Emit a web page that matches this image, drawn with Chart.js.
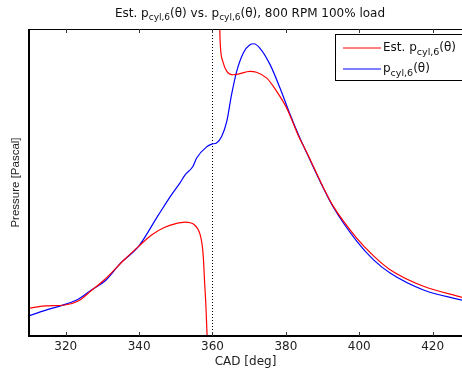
<!DOCTYPE html>
<html>
<head>
<meta charset="utf-8">
<script src="https://cdn.jsdelivr.net/npm/chart.js@4.4.1/dist/chart.umd.min.js"></script>
<style>
  html, body { margin: 0; padding: 0; background: #fff; }
  canvas { display: block; }
</style>
</head>
<body>
<canvas id="c" width="462" height="377"></canvas>
<script>
// Crank angle (deg) and cylinder pressure (arbitrary units) for the measured trace
const cadMeasured = [310, 314, 319.8, 323.4, 327, 330.7, 335, 339.8, 345.2, 349, 351.1, 352.5, 354.7, 355.7,
  358.4, 359.8, 361.1, 362.5, 363.9, 365.2, 366.6, 368.4, 370.2, 371.3, 372.9, 375.7, 378.4, 381.1,
  383.7, 385.7, 390.2, 392.9, 399.3, 403.9, 408.4, 417.5, 428];
const pMeasured = [6.6, 8.2, 10.3, 12.0, 15.0, 17.9, 23.8, 29.1, 39.3, 46.3, 49.8, 52.4, 55.3, 58.0,
  61.6, 62.5, 62.9, 65.0, 69.9, 78.6, 86.2, 92.2, 94.9, 95.2, 93.8, 88.4, 80.8, 72.3,
  64.8, 59.6, 48.2, 42.0, 30.9, 24.8, 20.5, 15.0, 11.7];

// Estimated trace: it diverges just before TDC and returns from above just after it
const cadEstimated = [310, 314.3, 319.8, 323.4, 327, 330.7, 336.1, 339.8, 343.4, 347, 350, 352.5, 355,
  356.6, 357.2, 357.5, 357.9, 358.2, 358.5, 358.8, 360,
  361.9, 362.0, 362.2, 362.8, 363.9, 365.7, 367.0, 370.2, 372.0, 374.8, 377.5, 380.2, 383.7,
  385.7, 390.2, 392.9, 399.3, 403.9, 408.4, 417.5, 428];
const pEstimated = [9.0, 9.8, 10.1, 11.4, 14.8, 18.5, 25.0, 29.1, 32.9, 35.4, 36.6, 37.1, 36.3,
  33.2, 29.6, 25.7, 16.6, 10.1, 1.0, -8, null,
  112, 100, 93.8, 89.5, 86.2, 85.1, 85.3, 86.2, 85.9, 84.0, 79.7, 74.3, 64.5,
  59.8, 48.4, 42.3, 31.9, 26.1, 21.6, 16.2, 12.6];

const xTickValues = [320, 340, 360, 380, 400, 420];
const tdcAngle = 360;

// Rich text pieces: [text, isSubscript]
const titleParts = [["Est. p", false], ["cyl,6", true], ["(\u03b8) vs. p", false], ["cyl,6", true], ["(\u03b8), 800 RPM 100% load", false]];
const legendEntries = [
  { color: "#ff0000", parts: [["Est. p", false], ["cyl,6", true], ["(\u03b8)", false]] },
  { color: "#0000ff", parts: [["p", false], ["cyl,6", true], ["(\u03b8)", false]] }
];

const WIDE = "'DejaVu Sans', Verdana, sans-serif";
const NARROW = "'Liberation Sans', Arial, Helvetica, sans-serif";

function toPoints(xs, ys) { return xs.map((x, i) => ({ x: x, y: ys[i] })); }

function richWidth(ctx, parts, main, sub) {
  let w = 0;
  for (const [t, s] of parts) {
    ctx.font = (s ? sub : main) + "px " + WIDE;
    w += ctx.measureText(t).width;
  }
  return w;
}
function drawRich(ctx, parts, x, y, main, sub, drop) {
  for (const [t, s] of parts) {
    ctx.font = (s ? sub : main) + "px " + WIDE;
    ctx.fillText(t, x, s ? y + drop : y);
    x += ctx.measureText(t).width;
  }
}

const decor = {
  id: "decor",
  beforeDatasetsDraw(chart) {
    const { ctx, chartArea: a, scales } = chart;
    const xp = Math.round(scales.x.getPixelForValue(tdcAngle)) + 0.5;
    ctx.save();
    ctx.strokeStyle = "#000";
    ctx.lineWidth = 1;
    ctx.setLineDash([1, 2]);
    ctx.beginPath();
    ctx.moveTo(xp, a.top);
    ctx.lineTo(xp, a.bottom);
    ctx.stroke();
    ctx.restore();
  },
  afterDraw(chart) {
    const { ctx, chartArea: a, scales } = chart;
    ctx.save();
    // axes box
    ctx.strokeStyle = "#000";
    ctx.lineWidth = 1;
    ctx.beginPath();
    ctx.moveTo(a.left, a.top + 0.5);
    ctx.lineTo(a.right, a.top + 0.5);
    ctx.stroke();
    ctx.lineWidth = 2;
    ctx.beginPath();
    ctx.moveTo(a.left, a.top);
    ctx.lineTo(a.left, a.bottom);
    ctx.lineTo(a.right, a.bottom);
    ctx.stroke();
    // inward tick marks on top and bottom
    ctx.strokeStyle = "#333";
    ctx.lineWidth = 1;
    for (const v of xTickValues) {
      const xp = Math.round(scales.x.getPixelForValue(v)) + 0.5;
      ctx.beginPath();
      ctx.moveTo(xp, a.bottom);
      ctx.lineTo(xp, a.bottom - 4);
      ctx.moveTo(xp, a.top);
      ctx.lineTo(xp, a.top + 4);
      ctx.stroke();
    }
    // title
    ctx.fillStyle = "#111";
    ctx.textBaseline = "alphabetic";
    ctx.textAlign = "left";
    const tw = richWidth(ctx, titleParts, 12, 9);
    drawRich(ctx, titleParts, 250 - tw / 2, 16.5, 12, 9, 3);
    // legend
    const lx = 335.5, ly = 34.5;
    ctx.fillStyle = "#fff";
    ctx.fillRect(lx, ly, 140, 46);
    ctx.strokeStyle = "#000";
    ctx.lineWidth = 1;
    ctx.strokeRect(lx, ly, 140, 46);
    legendEntries.forEach((e, i) => {
      const yy = 48 + i * 21;
      ctx.strokeStyle = e.color;
      ctx.lineWidth = 1;
      ctx.beginPath();
      ctx.moveTo(343, yy);
      ctx.lineTo(381, yy);
      ctx.stroke();
      ctx.fillStyle = "#111";
      drawRich(ctx, e.parts, 383, yy + 3, 12, 9.5, 4);
    });
    ctx.restore();
  }
};

new Chart(document.getElementById("c"), {
  type: "line",
  data: {
    datasets: [
      {
        label: "Est. p_cyl,6(\u03b8)",
        data: toPoints(cadEstimated, pEstimated),
        borderColor: "#ff0000",
        borderWidth: 1.2,
        pointRadius: 0,
        cubicInterpolationMode: "monotone",
        spanGaps: false
      },
      {
        label: "p_cyl,6(\u03b8)",
        data: toPoints(cadMeasured, pMeasured),
        borderColor: "#0000ff",
        borderWidth: 1.2,
        pointRadius: 0,
        cubicInterpolationMode: "monotone"
      }
    ]
  },
  options: {
    responsive: false,
    animation: false,
    devicePixelRatio: 1,
    layout: { padding: { top: 29, right: 0, left: 0, bottom: 0 } },
    plugins: { legend: { display: false }, title: { display: false }, tooltip: { enabled: false } },
    scales: {
      x: {
        type: "linear",
        min: 310,
        max: 428,
        afterBuildTicks: (s) => { s.ticks = xTickValues.map(v => ({ value: v })); },
        afterFit: (s) => { s.height = 41; },
        grid: { display: false, drawTicks: false },
        border: { display: false },
        ticks: { color: "#222", font: { family: WIDE, size: 12 }, padding: 4, maxRotation: 0 },
        title: { display: true, text: "CAD [deg]", color: "#222", font: { family: WIDE, size: 12 }, padding: { top: 0, bottom: 8 } }
      },
      y: {
        type: "linear",
        min: 0,
        max: 100,
        afterFit: (s) => { s.width = 29; },
        grid: { display: false, drawTicks: false },
        border: { display: false },
        ticks: { display: false },
        title: { display: true, text: "Pressure [Pascal]", color: "#222", font: { family: NARROW, size: 11.5 }, padding: { top: 9, bottom: 0 } }
      }
    }
  },
  plugins: [decor]
});
</script>
</body>
</html>
